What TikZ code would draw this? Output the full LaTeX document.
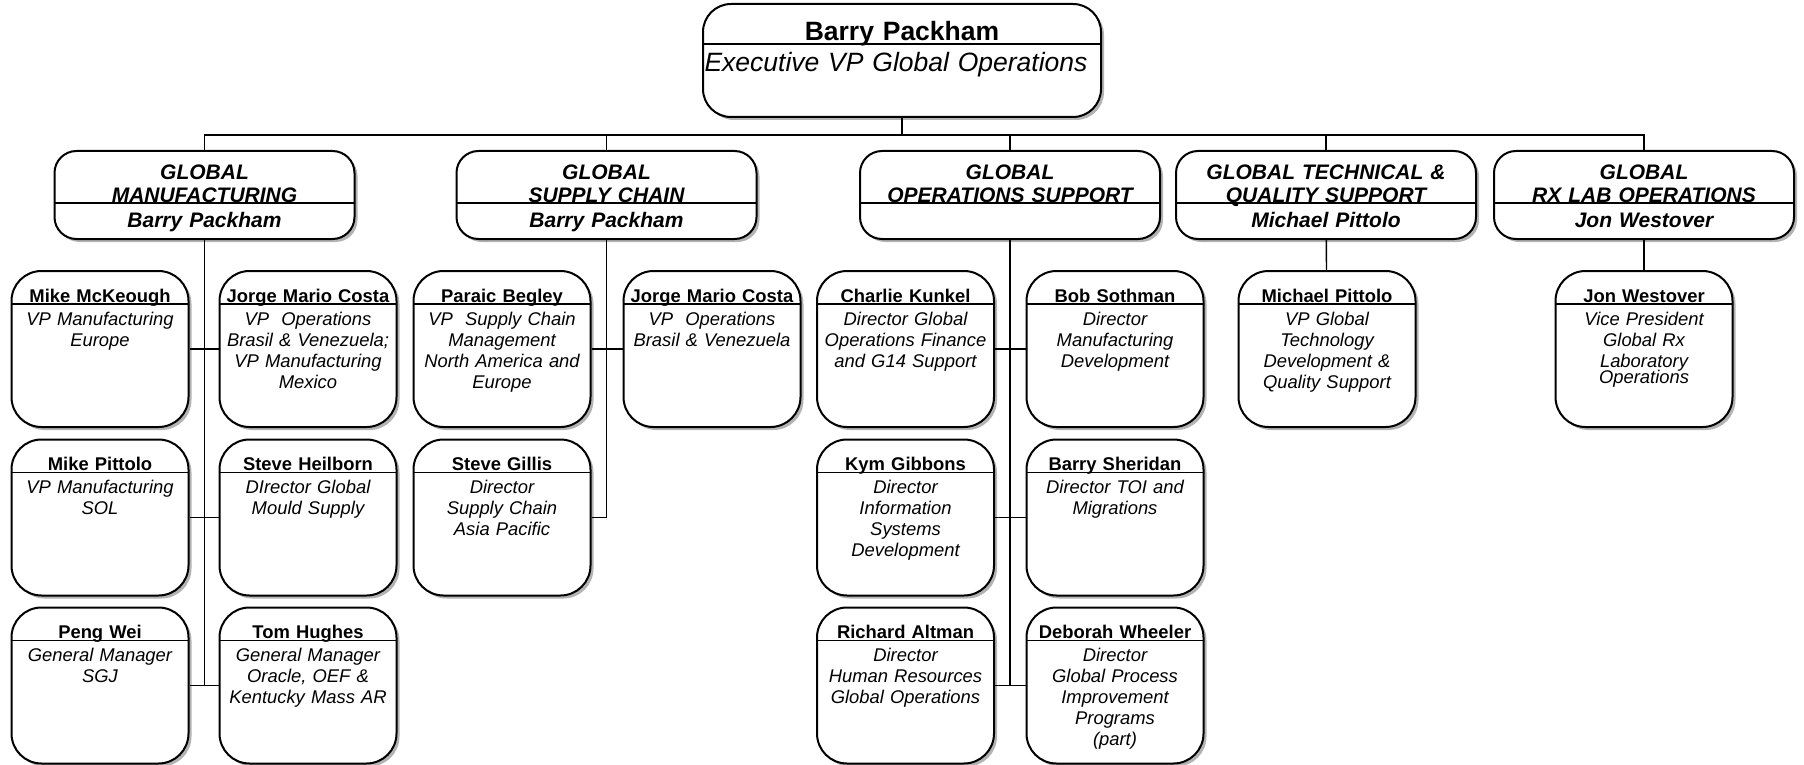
\documentclass[tikz,border=0pt]{standalone}
\usepackage{fontspec}
\setmainfont{Liberation Sans}
\usetikzlibrary{shadows}

\begin{document}
\begin{tikzpicture}[x=0.5pt,y=-0.5pt]
\tikzstyle{chartbox}=[draw=black,fill=white,line width=1pt,inner sep=0pt,align=center,drop shadow={shadow xshift=1.5pt,shadow yshift=-1.5pt,fill=black!50,opacity=0.6}]
\tikzstyle{topbox}=[chartbox,rounded corners=14pt,text width=199pt,text height=18.5pt,text depth=38pt,font={\fontsize{13.25pt}{15.5pt}\selectfont},path picture={\draw[line width=0.8pt] ([yshift=-20pt]path picture bounding box.north west) -- ([yshift=-20pt]path picture bounding box.north east);}]
\tikzstyle{groupbox}=[chartbox,rounded corners=11pt,text width=150pt,text height=14pt,text depth=30pt,font={\fontsize{10.5pt}{11.5pt}\selectfont\bfseries\itshape},path picture={\draw[line width=0.8pt] ([yshift=-26pt]path picture bounding box.north west) -- ([yshift=-26pt]path picture bounding box.north east);}]
\tikzstyle{staffbox}=[chartbox,rounded corners=15pt,text width=88.5pt,text height=15.5pt,text depth=62.5pt,font={\fontsize{9.2pt}{10.5pt}\selectfont},path picture={\draw[line width=0.8pt] ([yshift=-16.5pt]path picture bounding box.north west) -- ([yshift=-16.5pt]path picture bounding box.north east);}]
\useasboundingbox (0,0) rectangle (1804,765);

% top
\node[topbox] (top) at (902,60.5) {\textbf{Barry Packham}\\\hspace*{-6pt}\textit{Executive VP Global Operations}};

% groups
\node[groupbox] (gm) at (204.5,195) {GLOBAL\\MANUFACTURING\\[1pt]Barry Packham};
\node[groupbox] (gs) at (606.5,195) {GLOBAL\\SUPPLY CHAIN\\[1pt]Barry Packham};
\node[groupbox] (go) at (1010,195) {GLOBAL\\OPERATIONS SUPPORT\\[1pt]\mbox{}};
\node[groupbox] (gt) at (1326,195) {GLOBAL TECHNICAL \&\\QUALITY SUPPORT\\[1pt]Michael Pittolo};
\node[groupbox] (gr) at (1644,195) {GLOBAL\\RX LAB OPERATIONS\\[1pt]Jon Westover};

% manufacturing
\node[staffbox] (mck) at (100,349) {{\bfseries Mike McKeough}\\[1pt]\itshape VP Manufacturing\\Europe};
\node[staffbox] (jmc) at (308,349) {{\bfseries Jorge Mario Costa}\\[1pt]\itshape VP\ \ Operations\\Brasil \& Venezuela;\\VP Manufacturing\\Mexico};
\node[staffbox] (mpi) at (100,517.5) {{\bfseries Mike Pittolo}\\[1pt]\itshape VP Manufacturing\\SOL};
\node[staffbox] (she) at (308,517.5) {{\bfseries Steve Heilborn}\\[1pt]\itshape DIrector Global\\Mould Supply};
\node[staffbox] (pwe) at (100,685.5) {{\bfseries Peng Wei}\\[1pt]\itshape General Manager\\SGJ};
\node[staffbox] (thu) at (308,685.5) {{\bfseries Tom Hughes}\\[1pt]\itshape General Manager\\Oracle, OEF \&\\Kentucky Mass AR};

% supply chain
\node[staffbox] (pbe) at (502,349) {{\bfseries Paraic Begley}\\[1pt]\itshape VP\ \ Supply Chain\\Management\\North America and\\Europe};
\node[staffbox] (jmb) at (712,349) {{\bfseries Jorge Mario Costa}\\[1pt]\itshape VP\ \ Operations\\Brasil \& Venezuela};
\node[staffbox] (sgi) at (502,517.5) {{\bfseries Steve Gillis}\\[1pt]\itshape Director\\Supply Chain\\Asia Pacific};

% operations support
\node[staffbox] (cku) at (905.5,349) {{\bfseries Charlie Kunkel}\\[1pt]\itshape Director Global\\Operations Finance\\and G14 Support};
\node[staffbox] (bso) at (1115,349) {{\bfseries Bob Sothman}\\[1pt]\itshape Director\\Manufacturing\\Development};
\node[staffbox] (kgi) at (905.5,517.5) {{\bfseries Kym Gibbons}\\[1pt]\itshape Director\\Information\\Systems\\Development};
\node[staffbox] (bsh) at (1115,517.5) {{\bfseries Barry Sheridan}\\[1pt]\itshape Director TOI and\\Migrations};
\node[staffbox] (ral) at (905.5,685.5) {{\bfseries Richard Altman}\\[1pt]\itshape Director\\Human Resources\\Global Operations};
\node[staffbox] (dwh) at (1115,685.5) {{\bfseries Deborah Wheeler}\\[1pt]\itshape Director\\Global Process\\Improvement\\Programs\\(part)};

% technical, rx lab
\node[staffbox] (mpt) at (1327,349) {{\bfseries Michael Pittolo}\\[1pt]\itshape VP Global\\Technology\\Development \&\\Quality Support};
\node[staffbox] (jwe) at (1644,349) {{\bfseries Jon Westover}\\[1pt]\itshape Vice President\\Global Rx\\Laboratory\\[-2.5pt]Operations};

% connectors
\coordinate (bus) at (902,135);
\draw[line width=0.7pt] (top.south) -- (bus);
\draw[line width=0.7pt] (gm.north) -- (gm.north |- bus) -- (gr.north |- bus) -- (gr.north);
\draw[line width=0.7pt] (gs.north) -- (gs.north |- bus);
\draw[line width=0.7pt] (go.north) -- (go.north |- bus);
\draw[line width=0.7pt] (gt.north) -- (gt.north |- bus);

\draw[line width=0.7pt] (gm.south) -- (gm.south |- pwe.east);
\draw[line width=0.7pt] (mck) -- (jmc);
\draw[line width=0.7pt] (mpi) -- (she);
\draw[line width=0.7pt] (pwe) -- (thu);

\draw[line width=0.7pt] (gs.south) -- (gs.south |- sgi.east) -- (sgi.east);
\draw[line width=0.7pt] (pbe) -- (jmb);

\draw[line width=0.7pt] (go.south) -- (go.south |- ral.east);
\draw[line width=0.7pt] (cku) -- (bso);
\draw[line width=0.7pt] (kgi) -- (bsh);
\draw[line width=0.7pt] (ral) -- (dwh);

\draw[line width=0.7pt] (gt) -- (mpt);
\draw[line width=0.7pt] (gr) -- (jwe);
\end{tikzpicture}
\end{document}
